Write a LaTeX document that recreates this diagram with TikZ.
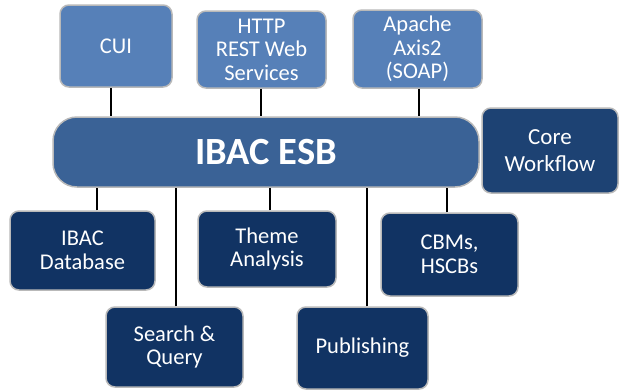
\documentclass[tikz,border=0pt]{standalone}
\usepackage{fontspec}
\setmainfont{Carlito}
\usetikzlibrary{positioning}

\definecolor{svcblue}{RGB}{86,128,184}
\definecolor{busblue}{RGB}{58,98,150}
\definecolor{coreblue}{RGB}{29,66,115}
\definecolor{modnavy}{RGB}{17,51,99}

\begin{document}
\begin{tikzpicture}[
  x=1pt, y=-1pt,
  box/.style={draw=gray!55, line width=1.5pt, rounded corners=9pt, align=center,
              text=white, inner sep=0pt, font=\fontsize{22.5}{23.5}\selectfont},
  svc/.style={box, fill=svcblue},
  mod/.style={box, fill=modnavy},
  bus/.style={box, fill=busblue, rounded corners=24pt,
              font=\fontsize{38.5}{40}\selectfont\bfseries},
  wire/.style={line width=2pt, black}
]
  \useasboundingbox (0,0) rectangle (619,389);

  % services on top of the bus
  \node[svc, minimum width=112pt, minimum height=82pt] (cui)  at (116,46)   {CUI};
  \node[svc, minimum width=129pt, minimum height=77pt] (http) at (261.5,49.5)
    {HTTP\\ REST Web\\ Services};
  \node[svc, minimum width=129pt, minimum height=78pt] (axis) at (417.5,49)
    {Apache\\ Axis2\\ (SOAP)};

  % the bus itself
  \node[bus, minimum width=426pt, minimum height=70pt] (esb) at (266,152) {IBAC ESB};
  \node[mod, fill=coreblue, minimum width=136pt, minimum height=85pt,
        font=\fontsize{23}{27}\selectfont] (core) at (550,150.5) {Core\\ Workflow};

  % modules below the bus
  \node[mod, minimum width=145pt, minimum height=79pt] (db)     at (82.5,250.5)
    {IBAC\\ Database};
  \node[mod, minimum width=138pt, minimum height=76pt] (theme)  at (267,249)
    {Theme\\ Analysis};
  \node[mod, minimum width=137pt, minimum height=83pt] (cbm)    at (449.5,254.5)
    {CBMs,\\ HSCBs};
  \node[mod, minimum width=137pt, minimum height=80pt] (search) at (174.5,347)
    {Search \&\\ Query};
  \node[mod, minimum width=131pt, minimum height=82pt] (pub)    at (362.5,348)
    {Publishing};

  \draw[wire] ([xshift=-5pt]cui.south) -- ([xshift=-5pt]cui.south |- esb.north);
  \draw[wire] ([xshift=-1pt]http.south) -- ([xshift=-1pt]http.south |- esb.north);
  \draw[wire] ([xshift=1pt]axis.south) -- ([xshift=1pt]axis.south |- esb.north);

  \draw[wire] ([xshift=14.5pt]db.north) -- ([xshift=14.5pt]db.north |- esb.south);
  \draw[wire] ([xshift=1pt]search.north) -- ([xshift=1pt]search.north |- esb.south);
  \draw[wire] ([xshift=2.5pt]theme.north) -- ([xshift=2.5pt]theme.north |- esb.south);
  \draw[wire] ([xshift=4pt]pub.north) -- ([xshift=4pt]pub.north |- esb.south);
  \draw[wire] ([xshift=-3pt]cbm.north) -- ([xshift=-3pt]cbm.north |- esb.south);
\end{tikzpicture}
\end{document}
